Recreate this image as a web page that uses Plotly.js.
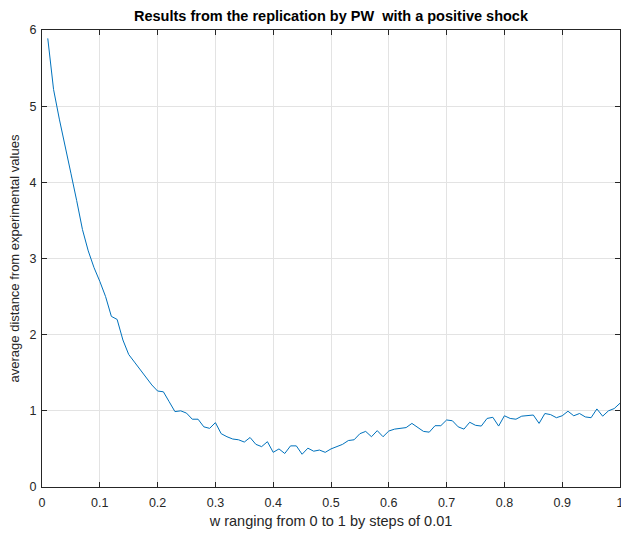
<!DOCTYPE html>
<html>
<head>
<meta charset="utf-8">
<script src="https://cdn.plot.ly/plotly-3.0.1.min.js"></script>
<style>
  html, body { margin: 0; padding: 0; background: #fff; }
  #chart { width: 621px; height: 534px; }
</style>
</head>
<body>
<div id="chart"></div>
<script>
// w values, 0.01 .. 1.00 in steps of 0.01
const w = [
  0.01,0.02,0.03,0.04,0.05,0.06,0.07,0.08,0.09,0.10,
  0.11,0.12,0.13,0.14,0.15,0.16,0.17,0.18,0.19,0.20,
  0.21,0.22,0.23,0.24,0.25,0.26,0.27,0.28,0.29,0.30,
  0.31,0.32,0.33,0.34,0.35,0.36,0.37,0.38,0.39,0.40,
  0.41,0.42,0.43,0.44,0.45,0.46,0.47,0.48,0.49,0.50,
  0.51,0.52,0.53,0.54,0.55,0.56,0.57,0.58,0.59,0.60,
  0.61,0.62,0.63,0.64,0.65,0.66,0.67,0.68,0.69,0.70,
  0.71,0.72,0.73,0.74,0.75,0.76,0.77,0.78,0.79,0.80,
  0.81,0.82,0.83,0.84,0.85,0.86,0.87,0.88,0.89,0.90,
  0.91,0.92,0.93,0.94,0.95,0.96,0.97,0.98,0.99,1.00
];

// average distance from the experimental values for each w
const avgDistance = [
  5.89,5.22,4.83,4.45,4.12,3.76,3.38,3.10,2.88,2.70,
  2.50,2.24,2.20,1.93,1.74,1.64,1.54,1.44,1.34,1.26,
  1.25,1.12,0.99,1.00,0.97,0.89,0.89,0.79,0.77,0.845,
  0.70,0.66,0.63,0.62,0.59,0.65,0.56,0.53,0.595,0.455,
  0.50,0.44,0.54,0.54,0.43,0.51,0.47,0.485,0.455,0.50,
  0.53,0.56,0.61,0.62,0.70,0.73,0.66,0.74,0.66,0.735,
  0.76,0.77,0.78,0.835,0.78,0.73,0.72,0.805,0.805,0.88,
  0.87,0.79,0.76,0.85,0.81,0.80,0.90,0.915,0.80,0.935,
  0.90,0.89,0.93,0.94,0.945,0.835,0.965,0.95,0.91,0.935,
  0.995,0.935,0.965,0.92,0.91,1.025,0.93,1.00,1.03,1.10
];

const xTicks = [0,0.1,0.2,0.3,0.4,0.5,0.6,0.7,0.8,0.9,1];
const xTickText = ['0','0.1','0.2','0.3','0.4','0.5','0.6','0.7','0.8','0.9','1'];
const yTicks = [0,1,2,3,4,5,6];

const axisColor = '#262626';
const gridColor = '#e3e3e3';
const fontFamily = '"Liberation Sans", Arial, Helvetica, sans-serif';

const trace = {
  x: w,
  y: avgDistance,
  type: 'scatter',
  mode: 'lines',
  line: { color: '#0072BD', width: 1 },
  hoverinfo: 'x+y'
};

const commonAxis = {
  showline: true,
  linecolor: axisColor,
  linewidth: 1,
  mirror: 'ticks',
  ticks: 'inside',
  ticklen: 5,
  tickwidth: 1,
  tickcolor: axisColor,
  showgrid: true,
  gridcolor: gridColor,
  gridwidth: 1,
  zeroline: false,
  ticklabeloverflow: 'allow',
  tickfont: { family: fontFamily, size: 12.5, color: axisColor }
};

const layout = {
  width: 621,
  height: 534,
  margin: { l: 42, r: 1, t: 30, b: 47 },
  paper_bgcolor: '#ffffff',
  plot_bgcolor: '#ffffff',
  showlegend: false,
  title: {
    text: '<b>Results from the replication by PW&nbsp; with a positive shock</b>',
    font: { family: fontFamily, size: 14.5, color: '#000000' },
    x: 0.5,
    xref: 'paper',
    xanchor: 'center',
    y: 1 - 16 / 534,
    yref: 'container',
    yanchor: 'middle'
  },
  xaxis: Object.assign({}, commonAxis, {
    range: [0, 1],
    tickmode: 'array',
    tickvals: xTicks,
    ticktext: xTickText,
    ticklabelstandoff: 4,
    title: {
      text: 'w ranging from 0 to 1 by steps of 0.01',
      font: { family: fontFamily, size: 14.5, color: axisColor },
      standoff: 6
    }
  }),
  yaxis: Object.assign({}, commonAxis, {
    range: [0, 6],
    tickmode: 'array',
    tickvals: yTicks,
    ticklabelstandoff: 2,
    title: {
      text: 'average distance from experimental values',
      font: { family: fontFamily, size: 13, color: axisColor },
      standoff: 6
    }
  })
};

Plotly.newPlot('chart', [trace], layout, { displayModeBar: false, staticPlot: true });
</script>
</body>
</html>
